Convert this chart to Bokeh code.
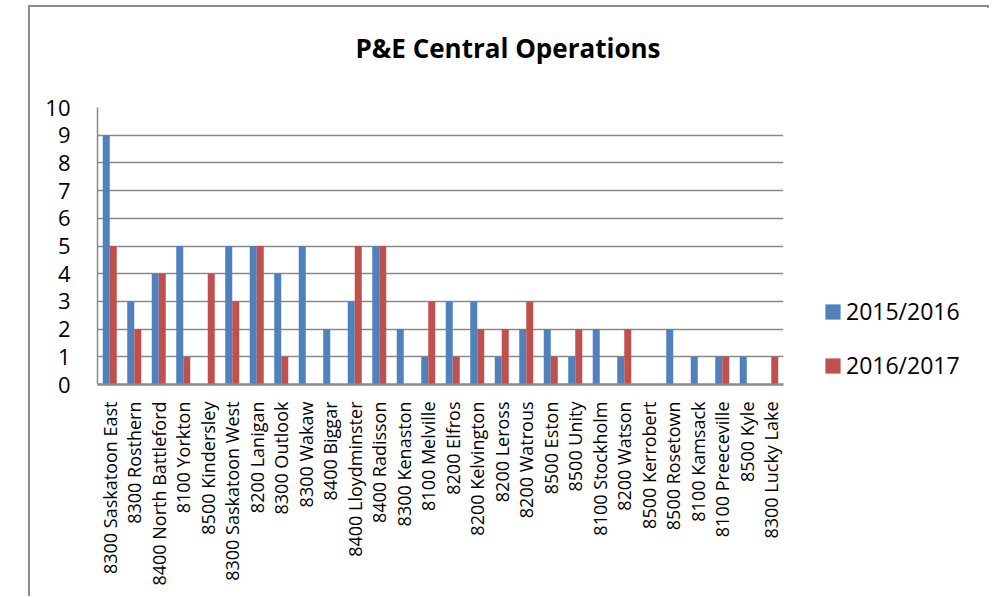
from bokeh.plotting import figure
from bokeh.models import ColumnDataSource, FactorRange, Legend, LegendItem
from bokeh.transform import dodge
from bokeh.embed import file_html
from bokeh.resources import INLINE
from math import pi

categories = [
    "8300 Saskatoon East", "8300 Rosthern", "8400 North Battleford", "8100 Yorkton",
    "8500 Kindersley", "8300 Saskatoon West", "8200 Lanigan", "8300 Outlook",
    "8300 Wakaw", "8400 Biggar", "8400 Lloydminster", "8400 Radisson",
    "8300 Kenaston", "8100 Melville", "8200 Elfros", "8200 Kelvington",
    "8200 Leross", "8200 Watrous", "8500 Eston", "8500 Unity",
    "8100 Stockholm", "8200 Watson", "8500 Kerrobert", "8500 Rosetown",
    "8100 Kamsack", "8100 Preeceville", "8500 Kyle", "8300 Lucky Lake",
]
series_2015_2016 = [9, 3, 4, 5, 0, 5, 5, 4, 5, 2, 3, 5, 2, 1, 3, 3, 1, 2, 2, 1, 2, 1, 0, 2, 1, 1, 1, 0]
series_2016_2017 = [5, 2, 4, 1, 4, 3, 5, 1, 0, 0, 5, 5, 0, 3, 1, 2, 2, 3, 1, 2, 0, 2, 0, 0, 0, 1, 0, 1]
series_names = ["2015/2016", "2016/2017"]
y_ticks = list(range(0, 11))
title_text = "P&E Central Operations"

BLUE = "#4F81BD"
RED = "#C0504D"
GRID = "#8a8a8a"
FONT = "Open Sans"

source = ColumnDataSource(dict(cat=categories, a=series_2015_2016, b=series_2016_2017))

p = figure(
    x_range=FactorRange(factors=categories),
    y_range=(0, 10),
    frame_width=686, frame_height=277,
    min_border_left=67, min_border_right=204,
    min_border_top=100, min_border_bottom=212,
    output_backend="svg", toolbar_location=None,
    title=title_text + "\n",
)
p.margin = (5, 0, 0, 28)
p.styles = {
    "box-sizing": "border-box",
    "width": "961px",
    "max-width": "961px",
    "border-left": "2px solid #8c8c8c",
    "border-top": "2px solid #8c8c8c",
    "border-right": "2px solid #8c8c8c",
}
p.outline_line_color = None
p.background_fill_color = "white"
p.border_fill_color = "white"

bw = 7 / 24.5
r1 = p.vbar(x=dodge("cat", -bw / 2, range=p.x_range), top="a", width=bw,
            source=source, fill_color=BLUE, line_color=None)
r2 = p.vbar(x=dodge("cat", bw / 2, range=p.x_range), top="b", width=bw,
            source=source, fill_color=RED, line_color=None)

# title (the trailing empty line lifts it further above the plot area)
p.title.text_font = FONT
p.title.text_font_size = "26px"
p.title.text_font_style = "bold"
p.title.text_color = "black"
p.title.align = "left"
p.title.offset = 258
p.title.vertical_align = "top"
p.title.standoff = 8

# axes
p.xgrid.grid_line_color = None
p.ygrid.grid_line_color = GRID
p.ygrid.grid_line_width = 1.5
p.yaxis.ticker = y_ticks

p.yaxis.axis_line_color = GRID
p.yaxis.axis_line_width = 1.5
p.yaxis.major_tick_line_color = None
p.yaxis.minor_tick_line_color = None
p.yaxis.major_tick_out = 0
p.yaxis.major_label_standoff = 27
p.yaxis.major_label_text_font = FONT
p.yaxis.major_label_text_font_size = "22px"
p.yaxis.major_label_text_color = "black"

p.xaxis.axis_line_color = GRID
p.xaxis.axis_line_width = 2.5
p.xaxis.major_tick_line_color = None
p.xaxis.minor_tick_line_color = None
p.xaxis.major_tick_out = 0
p.xaxis.major_label_orientation = pi / 2
p.xaxis.major_label_standoff = 17
p.xaxis.major_label_text_font = FONT
p.xaxis.major_label_text_font_size = "18px"
p.xaxis.major_label_text_color = "black"

legend = Legend(
    items=[LegendItem(label=series_names[0], renderers=[r1]),
           LegendItem(label=series_names[1], renderers=[r2])],
    location=(40, 3),
    orientation="vertical",
    background_fill_alpha=0, border_line_color=None,
    padding=0, margin=0, spacing=22,
    glyph_width=19, glyph_height=19, label_height=30, label_standoff=4,
    label_text_font=FONT, label_text_font_size="23px", label_text_color="black",
)
p.add_layout(legend, "right")

open("out.html", "w").write(file_html(p, INLINE))
